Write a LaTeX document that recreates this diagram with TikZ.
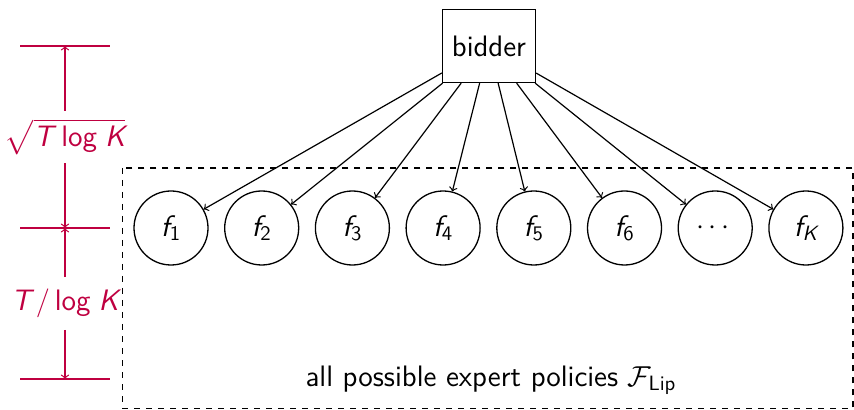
\documentclass[tikz,border=0pt]{standalone}
\usepackage{amsmath}
\renewcommand{\familydefault}{\sfdefault}
\newcommand{\mv}[1]{\textsf{\itshape #1}}
\newcommand{\su}[1]{\textsf{#1}}
\begin{document}
\begin{tikzpicture}[x=0.5pt,y=-0.5pt,
  every node/.style={font=\fontsize{14.8}{17}\selectfont},
  expert/.style={draw,circle,minimum size=37pt,inner sep=0pt,line width=0.65pt},
  boxnode/.style={draw,rectangle,minimum width=46.5pt,minimum height=36.5pt,line width=0.65pt},
  link/.style={->,line width=0.6pt},
  dim/.style={purple,line width=0.6pt},
  dimlabel/.style={text=purple,inner sep=1pt}]
\useasboundingbox (0,0) rectangle (854,410);
\draw[dashed,line width=0.6pt] (122.7,168) rectangle (853,408.5);
\node[boxnode] (bidder) at (489,46) {bidder};
\node[expert] (f1) at (171,228) {$\mv{f}_{\su{1}}$};
\node[expert] (f2) at (261.7,228) {$\mv{f}_{\su{2}}$};
\node[expert] (f3) at (352.4,228) {$\mv{f}_{\su{3}}$};
\node[expert] (f4) at (443.1,228) {$\mv{f}_{\su{4}}$};
\node[expert] (f5) at (533.8,228) {$\mv{f}_{\su{5}}$};
\node[expert] (f6) at (624.5,228) {$\mv{f}_{\su{6}}$};
\node[expert] (fd) at (715.2,228) {$\cdots$};
\node[expert] (fK) at (805.9,228) {$\mv{f}_{\mv{K}}$};
\foreach \t in {f1,f2,f3,f4,f5,f6,fd,fK}
  \draw[link] (bidder) -- (\t);
\node (caption) at (491,380) {all possible expert policies $\mathcal{F}_{\su{Lip}}$};
% dimension lines
\coordinate (tA) at (65,46);
\coordinate (tB) at (65,228);
\coordinate (tC) at (65,379);
\draw[dim] (20,46) -- (110,46);
\draw[dim] (20,228) -- (110,228);
\draw[dim] (20,379) -- (110,379);
\node[dimlabel,minimum height=26pt] (l1) at (65,137) {$\sqrt{\mv{T}\;\su{log}\;\mv{K}}$};
\node[dimlabel,minimum height=26pt] (l2) at (65,303.5) {$\mv{T}\,/\,\su{log}\;\mv{K}$};
\draw[dim,->] (l1.north) -- (tA);
\draw[dim,->] (l1.south) -- (tB);
\draw[dim,->] (l2.north) -- (tB);
\draw[dim,->] (l2.south) -- (tC);
\end{tikzpicture}
\end{document}
